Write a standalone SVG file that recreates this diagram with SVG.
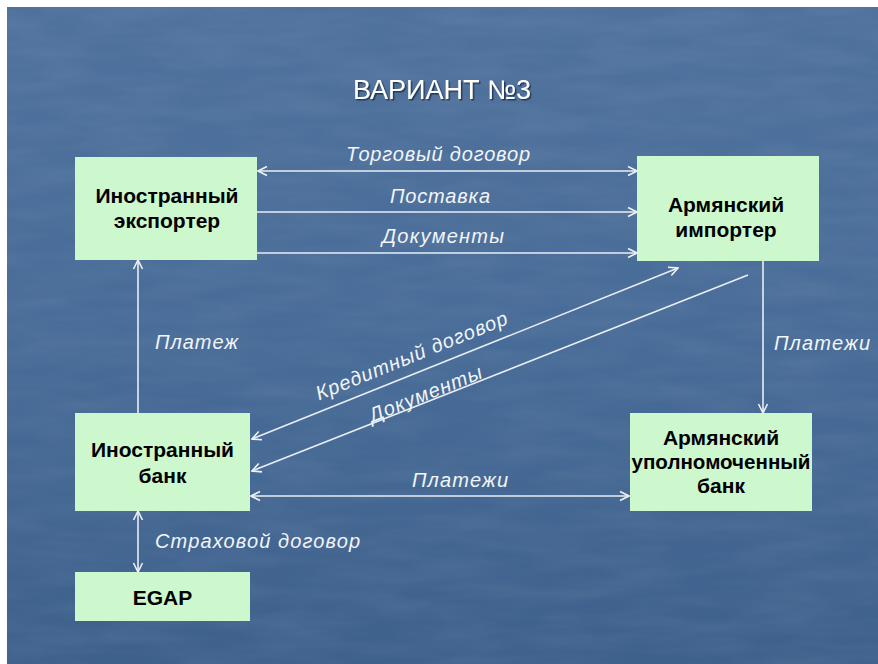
<svg xmlns="http://www.w3.org/2000/svg" width="878" height="664" viewBox="0 0 878 664">
<defs>
<linearGradient id="bg" x1="0" y1="0" x2="0" y2="1">
<stop offset="0" stop-color="#4f729d"/>
<stop offset="0.5" stop-color="#486c98"/>
<stop offset="1" stop-color="#3e618c"/>
</linearGradient>
<filter id="tex" x="0" y="0" width="100%" height="100%">
<feTurbulence type="fractalNoise" baseFrequency="0.012 0.06" numOctaves="3" seed="7" result="n"/>
<feColorMatrix in="n" type="matrix" values="0 0 0 0 1  0 0 0 0 1  0 0 0 0 1  0 0 0 0.35 -0.1"/>
</filter>
<filter id="sh" x="-10%" y="-30%" width="120%" height="160%">
<feDropShadow dx="1.5" dy="1.5" stdDeviation="0.6" flood-color="#1a2a40" flood-opacity="0.8"/>
</filter>
<marker id="ah" viewBox="0 0 12 12" refX="11" refY="6" markerWidth="12" markerHeight="12" markerUnits="userSpaceOnUse" orient="auto-start-reverse">
<path d="M2,1.5 L11,6 L2,10.5" fill="none" stroke="#eef2f7" stroke-width="1.6"/>
</marker>
</defs>
<style>
.box{fill:#cdf7cd;}
.nt{font-family:"Liberation Sans",Arial,sans-serif;font-weight:bold;font-size:21px;fill:#000;text-anchor:middle;}
.lb{font-family:"Liberation Sans",Arial,sans-serif;font-style:italic;font-size:20px;fill:#f2f5f9;}
.ln{stroke:#e9eef5;stroke-width:1.6;fill:none;}
</style>
<rect width="878" height="664" fill="#ffffff"/>
<rect x="7" y="7" width="871" height="657" fill="url(#bg)"/>
<rect x="7" y="7" width="871" height="657" filter="url(#tex)" opacity="0.25"/>

<text x="442" y="99" font-family="'Liberation Sans',Arial,sans-serif" font-size="27" fill="#ffffff" text-anchor="middle" filter="url(#sh)">ВАРИАНТ №3</text>

<g id="connectors">
<path class="ln" d="M258,171 H637" marker-start="url(#ah)" marker-end="url(#ah)"/>
<path class="ln" d="M257,212 H637" marker-end="url(#ah)"/>
<path class="ln" d="M257,253 H637" marker-end="url(#ah)"/>
<path class="ln" d="M252,439 L678,268" marker-start="url(#ah)" marker-end="url(#ah)"/>
<path class="ln" d="M748,275 L252,471" marker-end="url(#ah)"/>
<path class="ln" d="M138,413 V260" marker-end="url(#ah)"/>
<path class="ln" d="M763,261 V413" marker-end="url(#ah)"/>
<path class="ln" d="M251,496 H629" marker-start="url(#ah)" marker-end="url(#ah)"/>
<path class="ln" d="M138,511 V572" marker-start="url(#ah)" marker-end="url(#ah)"/>
<text class="lb" x="438" y="161" text-anchor="middle" textLength="184">Торговый договор</text>
<text class="lb" x="440" y="203" text-anchor="middle" textLength="100">Поставка</text>
<text class="lb" x="443" y="243" text-anchor="middle" textLength="122">Документы</text>
<text class="lb" x="414" y="362" text-anchor="middle" textLength="205" transform="rotate(-22 414 362)">Кредитный договор</text>
<text class="lb" x="428" y="400" text-anchor="middle" textLength="120" transform="rotate(-22 428 400)">Документы</text>
<text class="lb" x="155" y="349" textLength="83">Платеж</text>
<text class="lb" x="774" y="350" textLength="96">Платежи</text>
<text class="lb" x="460" y="487" text-anchor="middle" textLength="96">Платежи</text>
<text class="lb" x="155" y="548" textLength="205">Страховой договор</text>
</g>

<g id="exporter">
<rect class="box" x="75" y="157" width="182" height="103"/>
<text class="nt" x="167" y="203">Иностранный</text>
<text class="nt" x="167" y="228">экспортер</text>
</g>
<g id="importer">
<rect class="box" x="637" y="156" width="182" height="105"/>
<text class="nt" x="726" y="212">Армянский</text>
<text class="nt" x="726" y="237">импортер</text>
</g>
<g id="foreign-bank">
<rect class="box" x="75" y="413" width="175" height="98"/>
<text class="nt" x="162.5" y="457">Иностранный</text>
<text class="nt" x="162.5" y="483">банк</text>
</g>
<g id="arm-bank">
<rect class="box" x="630" y="413" width="182" height="98"/>
<text class="nt" x="721" y="445">Армянский</text>
<text class="nt" x="721" y="469" textLength="179" lengthAdjust="spacingAndGlyphs">уполномоченный</text>
<text class="nt" x="721" y="493">банк</text>
</g>
<g id="egap">
<rect class="box" x="75" y="572" width="175" height="49"/>
<text class="nt" x="162.5" y="605">EGAP</text>
</g>
</svg>
